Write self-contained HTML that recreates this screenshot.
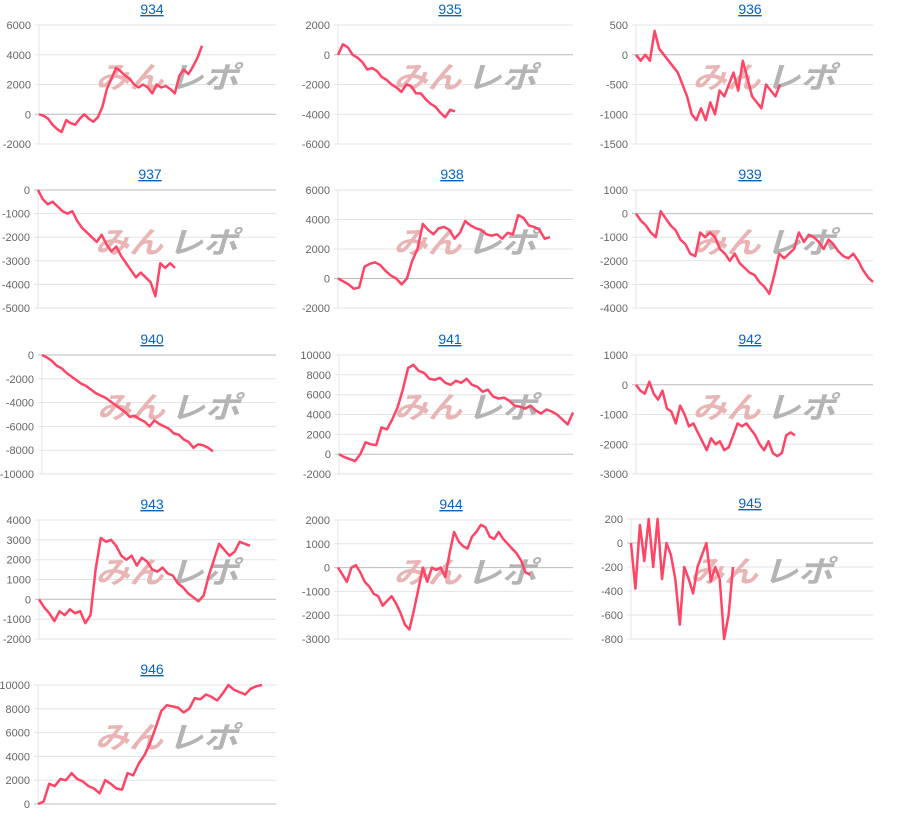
<!DOCTYPE html>
<html><head><meta charset="utf-8"><style>
html,body{margin:0;padding:0;background:#fff;width:900px;height:825px;overflow:hidden}
</style></head><body>
<svg id="s" width="900" height="825" xmlns="http://www.w3.org/2000/svg" font-family="Liberation Sans, sans-serif"></svg>
<script>
const C=[
{t:"934",cx:152,ax:39,rx:276,top:25,bot:144,ticks:[6000,4000,2000,0,-2000],ex:202,d:[0,-100,-300,-700,-1000,-1200,-400,-600,-700,-300,0,-300,-500,-200,500,1700,2400,3100,2900,2600,2400,2000,1800,2000,1800,1400,2000,1800,1900,1700,1400,2600,3000,2700,3200,3800,4600]},
{t:"935",cx:450,ax:338,rx:573,top:25,bot:144,ticks:[2000,0,-2000,-4000,-6000],ex:455,d:[0,700,500,0,-200,-500,-1000,-900,-1100,-1500,-1700,-2000,-2200,-2500,-2000,-2100,-2600,-2600,-3000,-3300,-3500,-3900,-4200,-3700,-3800]},
{t:"936",cx:750,ax:636,rx:873,top:25,bot:144,ticks:[500,0,-500,-1000,-1500],ex:780,d:[0,-100,0,-100,400,100,0,-100,-200,-300,-500,-700,-1000,-1100,-900,-1100,-800,-1000,-600,-700,-500,-300,-600,-100,-400,-700,-800,-900,-500,-600,-700,-500]},
{t:"937",cx:150,ax:38,rx:276,top:190,bot:308,ticks:[0,-1000,-2000,-3000,-4000,-5000],ex:175,d:[0,-400,-600,-500,-700,-900,-1000,-900,-1300,-1600,-1800,-2000,-2200,-1900,-2300,-2600,-2400,-2800,-3100,-3400,-3700,-3500,-3700,-3900,-4500,-3100,-3300,-3100,-3300]},
{t:"938",cx:452,ax:338,rx:573,top:190,bot:308,ticks:[6000,4000,2000,0,-2000],ex:550,d:[0,-200,-400,-700,-600,800,1000,1100,900,500,200,0,-400,0,1200,2000,3700,3300,3000,3400,3500,3300,2700,3100,3900,3600,3400,3300,3000,2900,3000,2700,3100,3000,4300,4100,3600,3500,3300,2700,2800]},
{t:"939",cx:750,ax:636,rx:873,top:190,bot:308,ticks:[1000,0,-1000,-2000,-3000,-4000],ex:873,d:[0,-300,-500,-800,-1000,100,-200,-500,-700,-1100,-1300,-1700,-1800,-800,-1000,-800,-1000,-1500,-1700,-2000,-1700,-2100,-2300,-2500,-2600,-2900,-3100,-3400,-2600,-1700,-1900,-1700,-1500,-800,-1200,-900,-1000,-1200,-1500,-1100,-1300,-1600,-1800,-1900,-1700,-2000,-2400,-2700,-2900]},
{t:"940",cx:152,ax:42,rx:276,top:355,bot:474,ticks:[0,-2000,-4000,-6000,-8000,-10000],ex:213,d:[0,-200,-500,-900,-1100,-1500,-1800,-2100,-2400,-2600,-2900,-3200,-3400,-3600,-3900,-4200,-4500,-4800,-5200,-5100,-5400,-5600,-6000,-5500,-5800,-6000,-6200,-6600,-6700,-7100,-7300,-7800,-7500,-7600,-7800,-8100]},
{t:"941",cx:450,ax:339,rx:573,top:355,bot:474,ticks:[10000,8000,6000,4000,2000,0,-2000],ex:573,d:[0,-300,-500,-700,0,1200,1000,900,2700,2500,3500,4700,6500,8700,9000,8400,8200,7600,7500,7700,7200,7000,7400,7200,7600,7000,6800,6300,6500,5800,5600,5700,5400,4900,4800,4600,4900,4400,4100,4500,4300,4000,3500,3000,4200]},
{t:"942",cx:750,ax:636,rx:873,top:355,bot:474,ticks:[1000,0,-1000,-2000,-3000],ex:795,d:[0,-200,-300,100,-300,-500,-200,-800,-900,-1300,-700,-1000,-1400,-1300,-1600,-1900,-2200,-1800,-2000,-1900,-2200,-2100,-1700,-1300,-1400,-1300,-1500,-1700,-2000,-2200,-1900,-2300,-2400,-2300,-1700,-1600,-1700]},
{t:"943",cx:152,ax:39,rx:276,top:520,bot:639,ticks:[4000,3000,2000,1000,0,-1000,-2000],ex:250,d:[0,-400,-700,-1100,-600,-800,-500,-700,-600,-1200,-800,1500,3100,2900,3000,2700,2200,2000,2200,1700,2100,1900,1500,1400,1600,1300,1200,800,600,300,100,-100,200,1200,2000,2800,2500,2200,2400,2900,2800,2700]},
{t:"944",cx:451,ax:338,rx:573,top:520,bot:639,ticks:[2000,1000,0,-1000,-2000,-3000],ex:530,d:[0,-300,-600,0,100,-200,-600,-800,-1100,-1200,-1600,-1400,-1200,-1500,-1900,-2400,-2600,-1800,-900,0,-600,0,-100,0,-400,600,1500,1100,900,800,1300,1500,1800,1700,1300,1200,1500,1200,1000,800,600,300,-200,-300]},
{t:"945",cx:750,ax:631,rx:873,top:519,bot:639,ticks:[200,0,-200,-400,-600,-800],ex:733,d:[0,-380,150,-150,200,-200,200,-300,0,-100,-300,-680,-200,-300,-420,-200,-100,0,-320,-200,-300,-800,-600,-200]},
{t:"946",cx:152,ax:38,rx:276,top:685,bot:804,ticks:[10000,8000,6000,4000,2000,0],ex:262,d:[0,200,1700,1500,2100,2000,2600,2100,1900,1500,1300,900,2000,1700,1300,1200,2600,2400,3400,4100,5100,6400,7800,8300,8200,8100,7700,8000,8900,8800,9200,9000,8700,9300,10000,9600,9400,9200,9700,9900,10000]}
];
let h='';
for(const c of C){
 const mx=c.ticks[0],mn=c.ticks[c.ticks.length-1];
 const Y=v=>c.top+(mx-v)/(mx-mn)*(c.bot-c.top);
 h+=`<text x="${c.cx}" y="${c.top-11}" text-anchor="middle" font-size="14" fill="#0563c1" text-decoration="underline">${c.t}</text>`;
 h+=`<line x1="${c.ax}" y1="${c.top}" x2="${c.ax}" y2="${c.bot}" stroke="#e6e6e6"/>`;
 for(const t of c.ticks){const y=Y(t).toFixed(1);
  h+=`<line x1="${c.ax-4}" y1="${y}" x2="${c.rx}" y2="${y}" stroke="${t===0?'#bbb':'#e3e3e3'}"/>`;
  h+=`<text x="${c.ax-8}" y="${+y+4}" text-anchor="end" font-size="11" fill="#666">${t}</text>`;}
 const pc=(c.ax+c.rx)/2, wy=c.top+63;
 h+=`<text x="${pc-62}" y="${wy}" font-size="30" font-weight="bold" font-style="italic" fill="#e8b4b4" textLength="68" lengthAdjust="spacingAndGlyphs" font-family="Noto Sans CJK JP, sans-serif">みん</text>`;
 h+=`<text x="${pc+11}" y="${wy}" font-size="30" font-weight="bold" font-style="italic" fill="#b4b4b4" textLength="70" lengthAdjust="spacingAndGlyphs" font-family="Noto Sans CJK JP, sans-serif">レポ</text>`;
 const n=c.d.length,step=(c.ex-c.ax)/(n-1);
 const pts=c.d.map((v,i)=>(c.ax+i*step).toFixed(1)+','+Y(v).toFixed(1)).join(' ');
 h+=`<polyline points="${pts}" fill="none" stroke="#ff4466" stroke-width="2.5" stroke-linejoin="round"/>`;
}
document.getElementById('s').innerHTML=h;
</script>
</body></html>
